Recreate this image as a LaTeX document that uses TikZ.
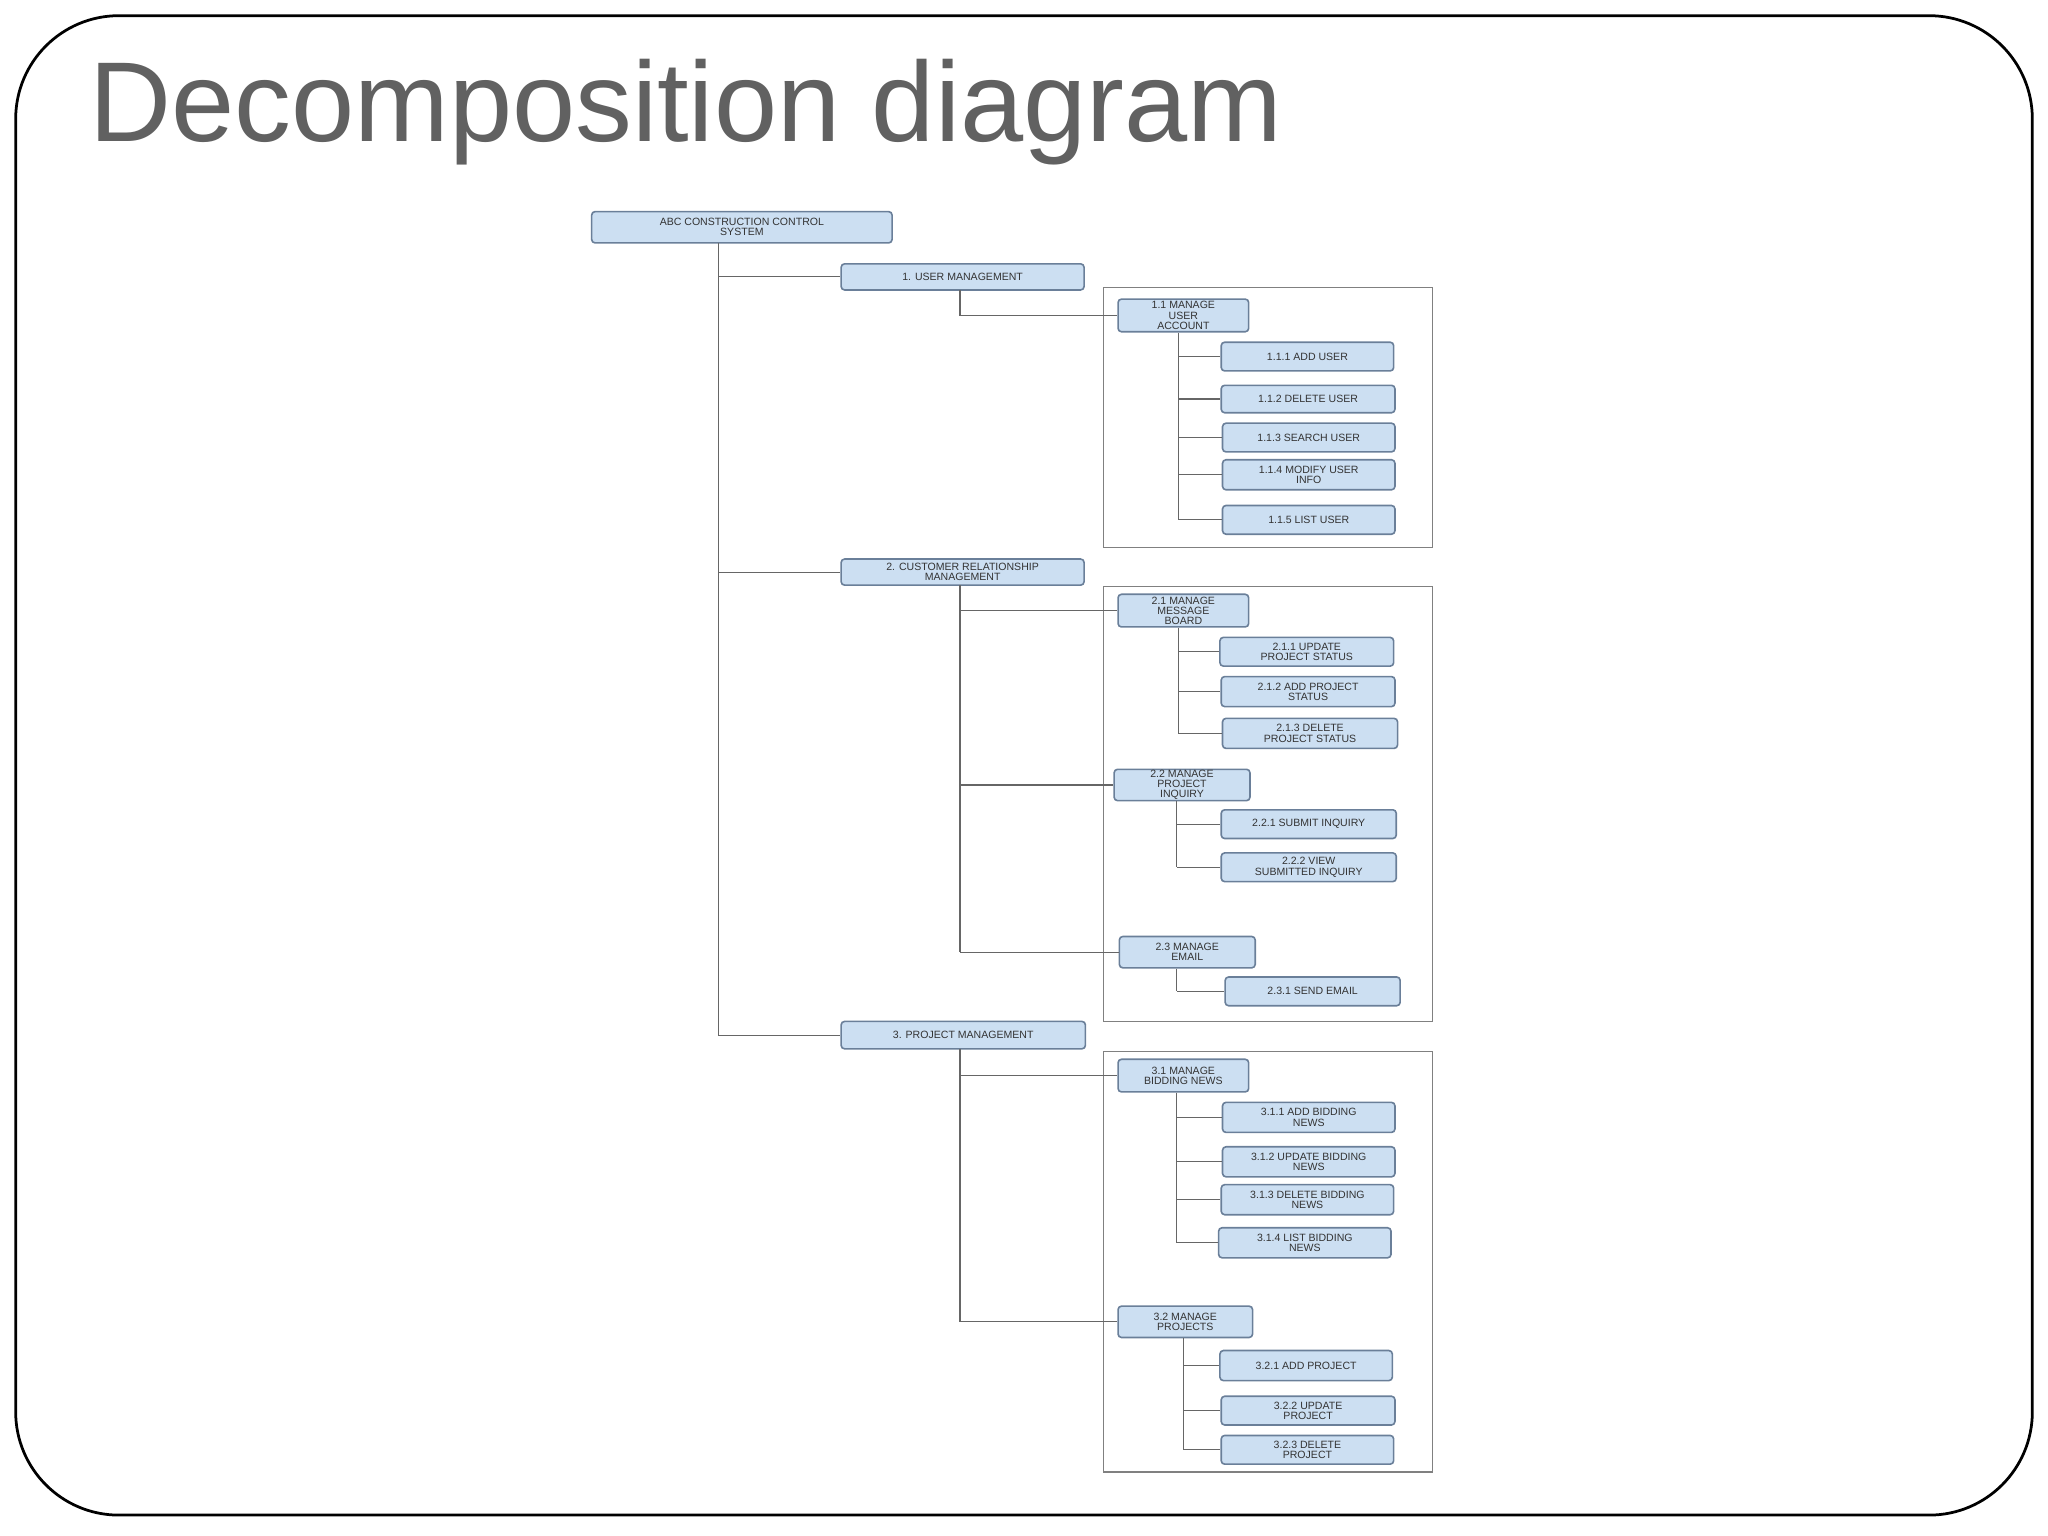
\documentclass[tikz,border=0pt]{standalone}
\usepackage{fontspec}
\setmainfont{Liberation Sans}
\definecolor{bfill}{HTML}{CCDFF2}
\definecolor{bdraw}{HTML}{6A7F99}
\begin{document}
\begin{tikzpicture}[x=0.02cm,y=-0.02cm,
  bx/.style={draw=bdraw,fill=bfill,rounded corners=1.5pt,line width=0.7pt,inner sep=0pt,align=center,font=\fontsize{4.6}{4.4}\selectfont,text=black!80},
  ln/.style={draw=black!60,line width=0.5pt},
  grp/.style={draw=black!50,line width=0.5pt}]
\newcommand\bx[6]{\node[bx,minimum width={(#4-#2)*0.02cm},minimum height={(#5-#3)*0.02cm}] (#1) at ({(#2+#4)/2},{(#3+#5)/2}) {#6};}
\useasboundingbox (0,0) rectangle (1568,1176);
\draw[line width=1.2pt,rounded corners=45] (12,12) rectangle (1556,1160);
\node[anchor=base west,inner sep=0,font=\fontsize{49.5}{50}\selectfont,text=black!62] (title) at (68,108) {Decomposition diagram};
\draw[grp] (845,220) rectangle (1097,419);
\draw[grp] (845,449) rectangle (1097,782);
\draw[grp] (845,805) rectangle (1097,1127);
\bx{r}{453}{162}{683}{186}{ABC CONSTRUCTION CONTROL\\SYSTEM}
\bx{a}{644}{202}{830}{222}{1. USER MANAGEMENT}
\bx{a1}{856}{229}{956}{254}{1.1 MANAGE\\USER\\ACCOUNT}
\bx{a11}{935}{262}{1067}{284}{1.1.1 ADD USER}
\bx{a12}{935}{295}{1068}{316}{1.1.2 DELETE USER}
\bx{a13}{936}{324}{1068}{346}{1.1.3 SEARCH USER}
\bx{a14}{936}{352}{1068}{375}{1.1.4 MODIFY USER\\INFO}
\bx{a15}{936}{387}{1068}{409}{1.1.5 LIST USER}
\bx{b}{644}{428}{830}{448}{2. CUSTOMER RELATIONSHIP\\MANAGEMENT}
\bx{b1}{856}{455}{956}{480}{2.1 MANAGE\\MESSAGE\\BOARD}
\bx{b11}{934}{488}{1067}{510}{2.1.1 UPDATE\\PROJECT STATUS}
\bx{b12}{935}{518}{1068}{541}{2.1.2 ADD PROJECT\\STATUS}
\bx{b13}{936}{550}{1070}{573}{2.1.3 DELETE\\PROJECT STATUS}
\bx{b2}{853}{589}{957}{613}{2.2 MANAGE\\PROJECT\\INQUIRY}
\bx{b21}{935}{620}{1069}{642}{2.2.1 SUBMIT INQUIRY}
\bx{b22}{935}{653}{1069}{675}{2.2.2 VIEW\\SUBMITTED INQUIRY}
\bx{b3}{857}{717}{961}{741}{2.3 MANAGE\\EMAIL}
\bx{b31}{938}{748}{1072}{770}{2.3.1 SEND EMAIL}
\bx{c}{644}{782}{831}{803}{3. PROJECT MANAGEMENT}
\bx{c1}{856}{811}{956}{836}{3.1 MANAGE\\BIDDING NEWS}
\bx{c11}{936}{844}{1068}{867}{3.1.1 ADD BIDDING\\NEWS}
\bx{c12}{936}{878}{1068}{901}{3.1.2 UPDATE BIDDING\\NEWS}
\bx{c13}{935}{907}{1067}{930}{3.1.3 DELETE BIDDING\\NEWS}
\bx{c14}{933}{940}{1065}{963}{3.1.4 LIST BIDDING\\NEWS}
\bx{c2}{856}{1000}{959}{1024}{3.2 MANAGE\\PROJECTS}
\bx{c21}{934}{1034}{1066}{1057}{3.2.1 ADD PROJECT}
\bx{c22}{935}{1069}{1068}{1091}{3.2.2 UPDATE\\PROJECT}
\bx{c23}{935}{1099}{1067}{1121}{3.2.3 DELETE\\PROJECT}
% trunks
\coordinate (t0) at (550,186);
\draw[ln] (t0) -- (t0 |- c.west);
\foreach \n in {a,b,c} \draw[ln] (t0 |- \n.west) -- (\n.west);
\coordinate (ta) at (735,222);
\draw[ln] (ta) |- (a1.west);
\coordinate (tb) at (735,448);
\draw[ln] (tb) -- (tb |- b3.west);
\foreach \n in {b1,b2,b3} \draw[ln] (tb |- \n.west) -- (\n.west);
\coordinate (tc) at (735,803);
\draw[ln] (tc) -- (tc |- c2.west);
\foreach \n in {c1,c2} \draw[ln] (tc |- \n.west) -- (\n.west);
\newcommand\sub[3]{\coordinate (s#1) at (#2,0); \draw[ln] (s#1 |- #1.south) -- (s#1 |- #3.west);}
\sub{a1}{902}{a15}
\foreach \n in {a11,a12,a13,a14,a15} \draw[ln] (sa1 |- \n.west) -- (\n.west);
\sub{b1}{902}{b13}
\foreach \n in {b11,b12,b13} \draw[ln] (sb1 |- \n.west) -- (\n.west);
\sub{b2}{901}{b22}
\foreach \n in {b21,b22} \draw[ln] (sb2 |- \n.west) -- (\n.west);
\sub{b3}{901}{b31}
\draw[ln] (sb3 |- b31.west) -- (b31.west);
\sub{c1}{901}{c14}
\foreach \n in {c11,c12,c13,c14} \draw[ln] (sc1 |- \n.west) -- (\n.west);
\sub{c2}{906}{c23}
\foreach \n in {c21,c22,c23} \draw[ln] (sc2 |- \n.west) -- (\n.west);
\end{tikzpicture}
\end{document}
